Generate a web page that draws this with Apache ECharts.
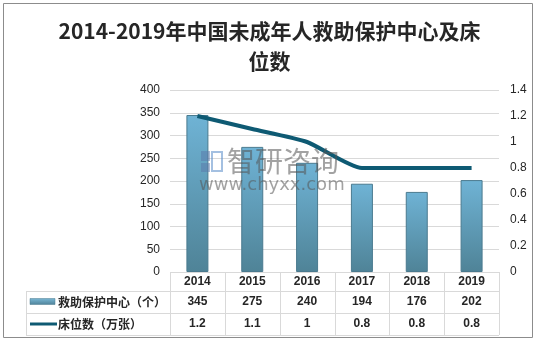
<!DOCTYPE html>
<html>
<head>
<meta charset="utf-8">
<script src="https://cdn.jsdelivr.net/npm/echarts@6/dist/echarts.min.js"></script>
<style>
html,body{margin:0;padding:0;background:#fff;}
#chart{width:539px;height:344px;}
</style>
</head>
<body>
<div id="chart"></div>
<script>
// ---- data ----
const categories = ['2014', '2015', '2016', '2017', '2018', '2019'];
const centerCounts = [345, 275, 240, 194, 176, 202];
const bedCounts = [1.2, 1.1, 1, 0.8, 0.8, 0.8];
const seriesNames = ['救助保护中心（个）', '床位数（万张）'];
const titleText = '2014-2019年中国未成年人救助保护中心及床\n位数';

// ---- layout ----
const W = 539, H = 344;
const gridLeft = 170, gridRight = 499, gridTop = 90, gridBottom = 272;
const colW = (gridRight - gridLeft) / categories.length;
const tableLeft = 26;
const rowY = [272, 291, 313, 335];
const textColor = '#262626';
const lineColor = '#d9d9d9';
const font = '"Liberation Sans", "Noto Sans CJK SC", sans-serif';
const cjkFont = '"Noto Sans CJK SC", sans-serif';

const chart = echarts.init(document.getElementById('chart'), null, {renderer: 'canvas'});

const graphics = [];
// outer border
graphics.push({type: 'rect', shape: {x: 3.5, y: 3.5, width: 529, height: 334},
  style: {fill: null, stroke: '#8c8c8c', lineWidth: 1}, silent: true, z: 0});
// table horizontal lines
graphics.push({type: 'line', shape: {x1: gridLeft, y1: rowY[0] + 0.5, x2: gridRight, y2: rowY[0] + 0.5}, style: {stroke: lineColor, lineWidth: 1}});
for (let r = 1; r < rowY.length; r++) {
  graphics.push({type: 'line', shape: {x1: tableLeft, y1: rowY[r] + 0.5, x2: gridRight, y2: rowY[r] + 0.5}, style: {stroke: lineColor, lineWidth: 1}});
}
// vertical lines
graphics.push({type: 'line', shape: {x1: tableLeft + 0.5, y1: rowY[1], x2: tableLeft + 0.5, y2: rowY[3]}, style: {stroke: lineColor, lineWidth: 1}});
for (let i = 0; i <= categories.length; i++) {
  const x = Math.round(gridLeft + i * colW) + 0.5;
  graphics.push({type: 'line', shape: {x1: x, y1: rowY[0], x2: x, y2: rowY[3]}, style: {stroke: lineColor, lineWidth: 1}});
}
// cell texts
const rowsData = [categories, centerCounts.map(String), bedCounts.map(String)];
rowsData.forEach((row, r) => {
  const cy = (rowY[r] + rowY[r + 1]) / 2;
  row.forEach((t, i) => {
    graphics.push({type: 'text', x: gridLeft + (i + 0.5) * colW, y: cy,
      style: {text: t, fill: textColor, font: 'bold 12px ' + font, textAlign: 'center', textVerticalAlign: 'middle'}});
  });
});
// legend keys in table
graphics.push({type: 'rect', shape: {x: 30, y: 298.5, width: 25, height: 6},
  style: {fill: new echarts.graphic.LinearGradient(0, 0, 0, 1, [{offset: 0, color: '#7ab8d6'}, {offset: 1, color: '#4f8298'}]), stroke: '#4a7a8f', lineWidth: 0.5}});
graphics.push({type: 'line', shape: {x1: 30, y1: 324, x2: 57, y2: 324}, style: {stroke: '#0e5a73', lineWidth: 3}});
graphics.push({type: 'text', x: 58, y: (rowY[1] + rowY[2]) / 2,
  style: {text: seriesNames[0], fill: textColor, font: 'bold 12px ' + cjkFont, textVerticalAlign: 'middle'}});
graphics.push({type: 'text', x: 58, y: (rowY[2] + rowY[3]) / 2,
  style: {text: seriesNames[1], fill: textColor, font: 'bold 12px ' + cjkFont, textVerticalAlign: 'middle'}});
// watermark (drawn above marks)
const wm = 'rgba(85,85,85,0.55)';
[
  {type: 'rect', shape: {x: 201, y: 151, width: 9, height: 10}, style: {fill: 'rgba(90,120,170,0.5)'}},
  {type: 'rect', shape: {x: 201, y: 163, width: 9, height: 9}, style: {fill: 'rgba(90,120,170,0.5)'}},
  {type: 'rect', shape: {x: 212, y: 152, width: 10, height: 19}, style: {fill: null, stroke: 'rgba(90,140,200,0.55)', lineWidth: 2}},
  {type: 'text', x: 227, y: 161, style: {text: '智研咨询', fill: wm, font: '28px ' + cjkFont, textVerticalAlign: 'middle'}},
  {type: 'text', x: 199, y: 185, style: {text: 'www.chyxx.com', fill: wm, font: '18px "DejaVu Sans", sans-serif', textVerticalAlign: 'middle'}}
].forEach(el => { el.silent = true; el.z = 100; el.zlevel = 1; graphics.push(el); });

const option = {
  animation: false,
  backgroundColor: '#fff',
  title: {
    text: titleText, left: 'center', top: 11,
    textStyle: {fontSize: 21, fontWeight: 'bold', color: textColor, lineHeight: 30, fontFamily: cjkFont}
  },
  grid: {left: gridLeft, right: W - gridRight, top: gridTop, bottom: H - gridBottom, containLabel: false},
  xAxis: {
    type: 'category', data: categories,
    axisLine: {show: false}, axisTick: {show: false}, axisLabel: {show: false}
  },
  yAxis: [
    {type: 'value', min: 0, max: 400, interval: 50,
      axisLine: {show: false}, axisTick: {show: false},
      axisLabel: {color: textColor, fontSize: 12, fontFamily: font, margin: 10},
      splitLine: {lineStyle: {color: lineColor}}},
    {type: 'value', min: 0, max: 1.4, interval: 0.2,
      axisLine: {show: false}, axisTick: {show: false},
      axisLabel: {color: textColor, fontSize: 12, fontFamily: font, margin: 11, formatter: v => String(+v.toFixed(1))},
      splitLine: {show: false}}
  ],
  series: [
    {name: seriesNames[0], type: 'bar', data: centerCounts, barWidth: 22, yAxisIndex: 0,
      itemStyle: {
        color: new echarts.graphic.LinearGradient(0, 0, 0, 1, [{offset: 0, color: '#6fb3d5'}, {offset: 1, color: '#4f8397'}]),
        borderColor: '#4a7a8f', borderWidth: 1
      }},
    {name: seriesNames[1], type: 'line', data: bedCounts, yAxisIndex: 1, smooth: 0.2,
      symbol: 'none', lineStyle: {color: '#0e5a73', width: 4}, z: 5}
  ],
  graphic: graphics
};
chart.setOption(option);
</script>
</body>
</html>
